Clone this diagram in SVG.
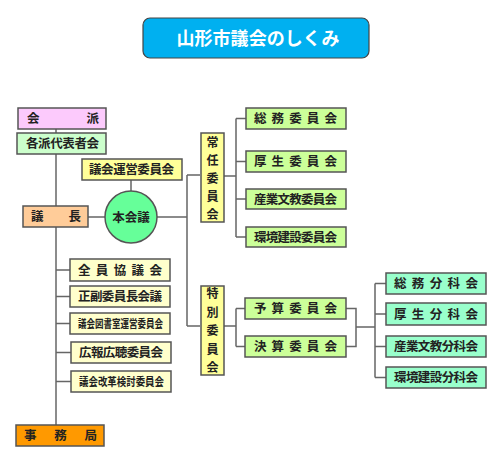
<svg xmlns="http://www.w3.org/2000/svg" width="500" height="472" viewBox="0 0 500 472">
<style>
.b{stroke:#555;stroke-width:1.5}
.t{font-family:"Noto Sans CJK JP","Noto Sans CJK SC",sans-serif;font-size:12.5px;font-weight:bold;fill:#222}
.v{font-size:12px}
.c{stroke:#666;stroke-width:1.5;fill:none}
.title{font-family:"Noto Sans CJK JP","Noto Sans CJK SC",sans-serif;font-size:18px;font-weight:bold;fill:#fff}
</style>
<rect width="500" height="472" fill="#fff"/>
<g id="title">
<rect x="143" y="18" width="226" height="40" rx="7" fill="#00b0f0" stroke="#444" stroke-width="1.2"/>
<text class="title" x="258" y="44.5" text-anchor="middle" textLength="163" lengthAdjust="spacing">山形市議会のしくみ</text>
</g>
<g id="connectors">
<path class="c" d="M56 129V425"/>
<path class="c" d="M88 217H105M131 180V191M157 217H187M187 175V326M187 175H200M187 326H200"/>
<path class="c" d="M224 176H236M236 118.5V237M236 118.5H246M236 161.5H246M236 199H246M236 237H246"/>
<path class="c" d="M56 270H70M56 296.5H70M56 323.5H70M56 352.5H71M56 381.5H71"/>
<path class="c" d="M224 326H236M236 308.5V346.5M236 308.5H245M236 346.5H245"/>
<path class="c" d="M346 308.5H356V346.5H346M356 327H375M375 283.5V377.5M375 283.5H386M375 314H386M375 346.5H386M375 377.5H386"/>
</g>
<g id="kaiha"><rect class="b" x="18" y="108" width="88" height="21" fill="#fccafc"/><text class="t" x="27" y="123" textLength="72" lengthAdjust="spacing">会派</text></g>
<g id="kakuha"><rect class="b" x="17" y="133" width="89" height="21" fill="#ccffcc"/><text class="t" x="26" y="148" textLength="73" lengthAdjust="spacing">各派代表者会</text></g>
<g id="giun"><rect class="b" x="82" y="159" width="100" height="21" fill="#ffff99"/><text class="t" x="89" y="174" textLength="85" lengthAdjust="spacing">議会運営委員会</text></g>
<g id="gicho"><rect class="b" x="23" y="206" width="65" height="21" fill="#ffcc99"/><text class="t" x="31" y="221" textLength="50" lengthAdjust="spacing">議長</text></g>
<g id="honkaigi"><circle class="b" cx="131" cy="217" r="26" fill="#66ff99"/><text class="t" x="131" y="221.5" text-anchor="middle">本会議</text></g>
<g id="jonin"><rect class="b" x="201" y="133" width="23" height="89" fill="#ffff99"/>
<text class="t v" x="212.5" text-anchor="middle"><tspan x="212.5" y="147">常</tspan><tspan x="212.5" y="165">任</tspan><tspan x="212.5" y="183">委</tspan><tspan x="212.5" y="201">員</tspan><tspan x="212.5" y="219">会</tspan></text></g>
<g id="somu-iin"><rect class="b" x="246" y="108" width="100" height="21" fill="#ccff99"/><text class="t" x="254" y="123" textLength="83" lengthAdjust="spacing">総務委員会</text></g>
<g id="kosei-iin"><rect class="b" x="246" y="151" width="100" height="21" fill="#ccff99"/><text class="t" x="254" y="166" textLength="83" lengthAdjust="spacing">厚生委員会</text></g>
<g id="sangyo-iin"><rect class="b" x="246" y="189" width="100" height="20" fill="#ccff99"/><text class="t" x="254" y="203.5" textLength="83" lengthAdjust="spacing">産業文教委員会</text></g>
<g id="kankyo-iin"><rect class="b" x="246" y="227" width="100" height="20" fill="#ccff99"/><text class="t" x="254" y="241.5" textLength="83" lengthAdjust="spacing">環境建設委員会</text></g>
<g id="zenin"><rect class="b" x="70" y="259" width="100" height="22" fill="#ffffcc"/><text class="t" x="78" y="274.5" textLength="84" lengthAdjust="spacing">全員協議会</text></g>
<g id="seifuku"><rect class="b" x="70" y="286" width="100" height="21" fill="#ffffcc"/><text class="t" x="78" y="301" textLength="84" lengthAdjust="spacing">正副委員長会議</text></g>
<g id="toshoshitsu"><rect class="b" x="70" y="313" width="100" height="21" fill="#ffffcc"/><text class="t" x="78" y="328" textLength="85" lengthAdjust="spacingAndGlyphs" style="font-size:11px">議会図書室運営委員会</text></g>
<g id="koho"><rect class="b" x="71" y="342" width="100" height="21" fill="#ffffcc"/><text class="t" x="79" y="357" textLength="84" lengthAdjust="spacing">広報広聴委員会</text></g>
<g id="kaikaku"><rect class="b" x="71" y="371" width="100" height="21" fill="#ffffcc"/><text class="t" x="79" y="386" textLength="85" lengthAdjust="spacingAndGlyphs" style="font-size:11.5px">議会改革検討委員会</text></g>
<g id="jimukyoku"><rect class="b" x="16" y="425" width="88" height="21" fill="#ff9900"/><text class="t" x="24" y="440" textLength="73" lengthAdjust="spacing">事務局</text></g>
<g id="tokubetsu"><rect class="b" x="201" y="286" width="23" height="89" fill="#ffff99"/>
<text class="t v" x="212.5" text-anchor="middle"><tspan x="212.5" y="298">特</tspan><tspan x="212.5" y="316.5">別</tspan><tspan x="212.5" y="335">委</tspan><tspan x="212.5" y="353.5">員</tspan><tspan x="212.5" y="372">会</tspan></text></g>
<g id="yosan"><rect class="b" x="245" y="298" width="101" height="21" fill="#ccff99"/><text class="t" x="254" y="313" textLength="83" lengthAdjust="spacing">予算委員会</text></g>
<g id="kessan"><rect class="b" x="245" y="336" width="101" height="21" fill="#ccff99"/><text class="t" x="254" y="351" textLength="83" lengthAdjust="spacing">決算委員会</text></g>
<g id="somu-bunka"><rect class="b" x="386" y="273" width="100" height="21" fill="#99ffcc"/><text class="t" x="394" y="288" textLength="84" lengthAdjust="spacing">総務分科会</text></g>
<g id="kosei-bunka"><rect class="b" x="386" y="303" width="100" height="22" fill="#99ffcc"/><text class="t" x="394" y="318.5" textLength="84" lengthAdjust="spacing">厚生分科会</text></g>
<g id="sangyo-bunka"><rect class="b" x="386" y="336" width="100" height="21" fill="#99ffcc"/><text class="t" x="394" y="351" textLength="84" lengthAdjust="spacing">産業文教分科会</text></g>
<g id="kankyo-bunka"><rect class="b" x="386" y="367" width="100" height="21" fill="#99ffcc"/><text class="t" x="394" y="382" textLength="84" lengthAdjust="spacing">環境建設分科会</text></g>
</svg>
